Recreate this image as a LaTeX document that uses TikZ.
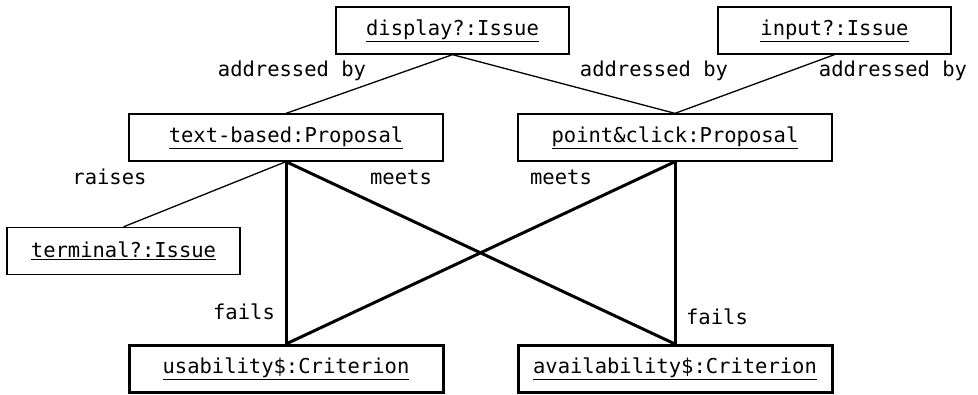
\documentclass[tikz,border=0pt]{standalone}
\usepackage{fontspec}
\setmonofont{DejaVu Sans Mono}
\usetikzlibrary{positioning}

\begin{document}
\begin{tikzpicture}[
    x=1pt, y=-1pt,
    font=\ttfamily\fontsize{20.5}{24}\selectfont,
    obj/.style={draw, rectangle, line width=1.3pt, minimum height=47pt, inner sep=2pt},
    issue/.style={obj, minimum width=233pt},
    proposal/.style={obj, minimum width=314pt},
    criterion/.style={obj, line width=3pt, minimum width=314pt},
    rel/.style={inner sep=0pt},
    weak/.style={line width=1.3pt},
    strong/.style={line width=3pt}
]

% frame of the picture
\useasboundingbox (0,0) rectangle (978,394);

% Issues at the top
\node[issue] (display) at (452.5,30.5) {\underline{display?:Issue}};
\node[issue] (input) at (834.5,30.5) {\underline{input?:Issue}};

% Proposals
\node[proposal] (textbased) at (286,137.5) {\underline{text-based:Proposal}};
\node[proposal] (pointclick) at (675,137.5) {\underline{point\&click:Proposal}};

% Issue raised by a proposal
\node[issue] (terminal) at (123.5,251) {\underline{terminal?:Issue}};

% Criteria
\node[criterion] (usability) at (286,369) {\underline{usability\$:Criterion}};
\node[criterion] (availability) at (675,369) {\underline{availability\$:Criterion}};

% Issues addressed by proposals
\draw[weak] (display.south) -- (textbased.north);
\draw[weak] (display.south) -- (pointclick.north);
\draw[weak] (input.south) -- (pointclick.north);
\node[rel] (addrA) at (292,71) {addressed by};
\node[rel] (addrB) at (654,71) {addressed by};
\node[rel] (addrC) at (893,71) {addressed by};

% Raised issue
\draw[weak] (textbased.south) -- (terminal.north);
\node[rel] (raises) at (109.5,177) {raises};

% Proposals against criteria
\draw[strong] (textbased.south) -- (usability.north);
\draw[strong] (textbased.south) -- (availability.north);
\draw[strong] (pointclick.south) -- (usability.north);
\draw[strong] (pointclick.south) -- (availability.north);
\node[rel] (meetsA) at (401,177) {meets};
\node[rel] (meetsB) at (561,177) {meets};
\node[rel] (failsA) at (244,312) {fails};
\node[rel] (failsB) at (717,317) {fails};

\end{tikzpicture}
\end{document}
